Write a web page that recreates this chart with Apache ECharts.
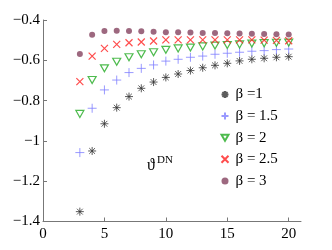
<!DOCTYPE html>
<html><head><meta charset="utf-8">
<script src="https://cdn.jsdelivr.net/npm/echarts@6/dist/echarts.min.js"></script>
<style>html,body{margin:0;padding:0;background:#fff}#c{width:332px;height:250px}</style>
</head><body><div id="c"></div>
<script>
var xs = [3,4,5,6,7,8,9,10,11,12,13,14,15,16,17,18,19,20];
var beta1  = [-1.351,-1.05,-0.915,-0.835,-0.78,-0.739,-0.708,-0.685,-0.668,-0.651,-0.637,-0.625,-0.615,-0.603,-0.595,-0.590,-0.585,-0.582];
var beta15 = [-1.058,-0.838,-0.747,-0.698,-0.661,-0.64,-0.623,-0.604,-0.595,-0.585,-0.579,-0.570,-0.565,-0.560,-0.555,-0.552,-0.547,-0.544];
var beta2  = [-0.866,-0.698,-0.64,-0.607,-0.585,-0.57,-0.56,-0.548,-0.541,-0.537,-0.531,-0.527,-0.524,-0.521,-0.517,-0.515,-0.513,-0.512];
var beta25 = [-0.706,-0.579,-0.541,-0.521,-0.513,-0.509,-0.504,-0.499,-0.499,-0.499,-0.499,-0.499,-0.499,-0.499,-0.499,-0.500,-0.501,-0.503];
var beta3  = [-0.569,-0.473,-0.455,-0.453,-0.455,-0.456,-0.458,-0.461,-0.461,-0.462,-0.464,-0.465,-0.466,-0.467,-0.468,-0.469,-0.471,-0.472];
var names = ['\u03b2 =1','\u03b2 = 1.5','\u03b2 = 2','\u03b2 = 2.5','\u03b2 = 3'];
var xTicks = [0,5,10,15,20];

function pts(v){ return xs.map(function(x,i){ return [x, v[i]]; }); }
var FONT = 'Liberation Serif';
var chart = echarts.init(document.getElementById('c'), null, {renderer:'canvas'});
var star = 'path://M0,-5L0,5M-5,0L5,0M-3.6,-3.6L3.6,3.6M-3.6,3.6L3.6,-3.6';
var plus = 'path://M0,-5L0,5M-5,0L5,0';
var cross = 'path://M-5,-5L5,5M-5,5L5,-5';
var tri = 'path://M-5,-4.3L5,-4.3L0,4.3Z';
chart.setOption({
  animation:false,
  grid:{left:43,right:31,top:20,bottom:28.5,containLabel:false},
  xAxis:{type:'value',min:0,max:21,interval:5,
    axisLine:{lineStyle:{color:'#777',width:1}},
    axisTick:{inside:true,length:4,lineStyle:{color:'#777'},customValues:xTicks},
    axisLabel:{color:'#000',fontFamily:FONT,fontSize:15,margin:5,customValues:xTicks},
    splitLine:{show:false}},
  yAxis:{type:'value',min:-1.4,max:-0.4,interval:0.2,
    axisLine:{show:true,lineStyle:{color:'#777',width:1}},
    axisTick:{show:true,inside:true,length:4,lineStyle:{color:'#777'}},
    axisLabel:{color:'#000',fontFamily:FONT,fontSize:15,margin:3,
      formatter:function(v){ return String(Math.round(v*10)/10).replace('-','\u2212'); }},
    splitLine:{show:false}},
  legend:{orient:'vertical',left:219,top:87,itemWidth:7,itemHeight:7,itemGap:6.6,padding:0,
    data:names,
    textStyle:{fontFamily:FONT,fontSize:15,color:'#000',lineHeight:15,padding:[0,0,0,2]}},
  series:[
    {name:names[0],type:'scatter',data:pts(beta1),symbol:star,symbolSize:8,
      itemStyle:{color:'none',borderColor:'#333',borderWidth:1}},
    {name:names[1],type:'scatter',data:pts(beta15),symbol:plus,symbolSize:9,
      itemStyle:{color:'none',borderColor:'#7f7fff',borderWidth:1}},
    {name:names[2],type:'scatter',data:pts(beta2),symbol:tri,symbolSize:[8,7],
      itemStyle:{color:'#fff',borderColor:'#22aa22',borderWidth:1.2}},
    {name:names[3],type:'scatter',data:pts(beta25),symbol:cross,symbolSize:7,
      itemStyle:{color:'none',borderColor:'#ff2020',borderWidth:1.2}},
    {name:names[4],type:'scatter',data:pts(beta3),symbol:'circle',symbolSize:6,
      itemStyle:{color:'#84425f',borderWidth:0}}
  ],
  graphic:[
    {type:'text',left:147,top:158,style:{text:'\u03d1',font:'16px '+FONT,fill:'#000'}},
    {type:'text',left:157,top:155,style:{text:'DN',font:'11px '+FONT,fill:'#000'}}
  ]
});
</script></body></html>
